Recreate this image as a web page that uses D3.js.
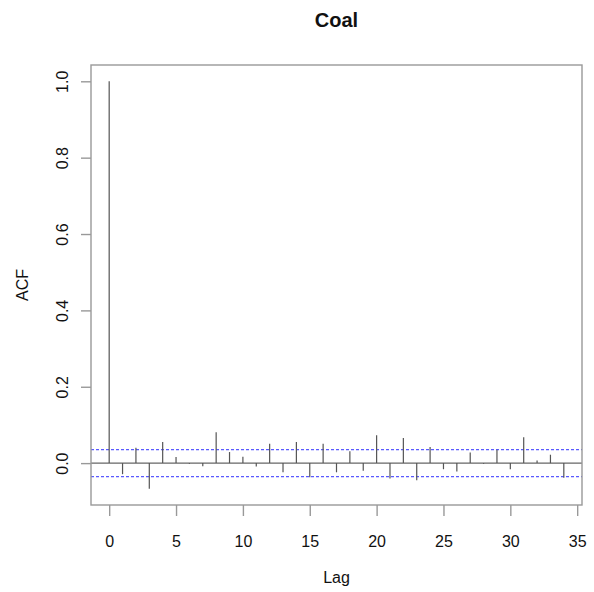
<!DOCTYPE html>
<html>
<head>
<meta charset="utf-8">
<script src="https://cdn.jsdelivr.net/npm/d3@7"></script>
<style>
  html, body { margin: 0; padding: 0; background: #fff; }
  svg { display: block; font-family: "Liberation Sans", Arial, Helvetica, sans-serif; }
</style>
</head>
<body>
<svg id="chart" width="594" height="592"></svg>
<script>
// Autocorrelation of the Coal series, lags 0..34
const lags = d3.range(0, 35);
const acfValues = [
  1.000, -0.029, 0.040, -0.067, 0.055, 0.016, -0.002, -0.008, 0.081, 0.029,
  0.017, -0.009, 0.051, -0.024, 0.055, -0.037, 0.051, -0.024, 0.031, -0.020,
  0.073, -0.040, 0.066, -0.045, 0.042, -0.016, -0.022, 0.028, -0.002, 0.035,
  -0.016, 0.068, 0.007, 0.022, -0.038
];
// 95% significance bound (±1.96/sqrt(n))
const confBound = 0.0354;
const xTicks = [0, 5, 10, 15, 20, 25, 30, 35];
const yTicks = [0.0, 0.2, 0.4, 0.6, 0.8, 1.0];
const titleText = "Coal";
const xLabel = "Lag";
const yLabel = "ACF";

const svg = d3.select("#chart");
const plot = { left: 91, right: 582, top: 65, bottom: 505 };

// axis limits padded by 4% on each side
function padded(lo, hi) {
  const d = (hi - lo) * 0.04;
  return [lo - d, hi + d];
}
const x = d3.scaleLinear()
  .domain(padded(d3.min(lags), d3.max(lags)))
  .range([plot.left, plot.right]);
const y = d3.scaleLinear()
  .domain(padded(Math.min(d3.min(acfValues), -confBound), Math.max(d3.max(acfValues), confBound)))
  .range([plot.bottom, plot.top]);

const points = lags.map((l, i) => ({ lag: l, acf: acfValues[i] }));

// zero line
svg.append("line")
  .attr("x1", plot.left).attr("x2", plot.right)
  .attr("y1", y(0)).attr("y2", y(0))
  .attr("stroke", "#666").attr("stroke-width", 1.2);

// confidence bounds
[confBound, -confBound].forEach(v => {
  svg.append("line")
    .attr("x1", plot.left).attr("x2", plot.right)
    .attr("y1", y(v)).attr("y2", y(v))
    .attr("stroke", "#5a5aff").attr("stroke-width", 1.2)
    .attr("stroke-dasharray", "3,2");
});

// spikes
svg.append("g").selectAll("line")
  .data(points)
  .join("line")
  .attr("x1", d => x(d.lag)).attr("x2", d => x(d.lag))
  .attr("y1", y(0)).attr("y2", d => y(d.acf))
  .attr("stroke", "#555").attr("stroke-width", 1.2);

// plot frame
svg.append("rect")
  .attr("x", plot.left).attr("y", plot.top)
  .attr("width", plot.right - plot.left).attr("height", plot.bottom - plot.top)
  .attr("fill", "none").attr("stroke", "#999").attr("stroke-width", 1.4);

// x axis
const xAxis = svg.append("g")
  .attr("transform", `translate(0,${plot.bottom})`)
  .call(d3.axisBottom(x).tickValues(xTicks).tickFormat(d3.format("d")).tickSize(11).tickPadding(20));
xAxis.select(".domain").remove();
xAxis.selectAll(".tick line").attr("stroke", "#999").attr("stroke-width", 1.4);
xAxis.selectAll(".tick text").attr("font-size", 16).attr("fill", "#111").attr("font-family", null);

// y axis
const yAxis = svg.append("g")
  .attr("transform", `translate(${plot.left},0)`)
  .call(d3.axisLeft(y).tickValues(yTicks).tickFormat(d3.format(".1f")).tickSize(10));
yAxis.select(".domain").remove();
yAxis.selectAll(".tick line").attr("stroke", "#999").attr("stroke-width", 1.4);
yAxis.selectAll(".tick text")
  .attr("font-size", 16).attr("fill", "#111").attr("font-family", null)
  .attr("x", null).attr("dy", null)
  .attr("text-anchor", "middle")
  .attr("transform", "translate(-23,0) rotate(-90)");

// title and axis labels
svg.append("text")
  .attr("x", (plot.left + plot.right) / 2).attr("y", 26.5)
  .attr("text-anchor", "middle").attr("font-size", 20).attr("font-weight", "bold")
  .attr("fill", "#111").text(titleText);
svg.append("text")
  .attr("x", (plot.left + plot.right) / 2).attr("y", 583)
  .attr("text-anchor", "middle").attr("font-size", 16)
  .attr("fill", "#111").text(xLabel);
svg.append("text")
  .attr("transform", `translate(28,${(plot.top + plot.bottom) / 2}) rotate(-90)`)
  .attr("text-anchor", "middle").attr("font-size", 16)
  .attr("fill", "#111").text(yLabel);
</script>
</body>
</html>
